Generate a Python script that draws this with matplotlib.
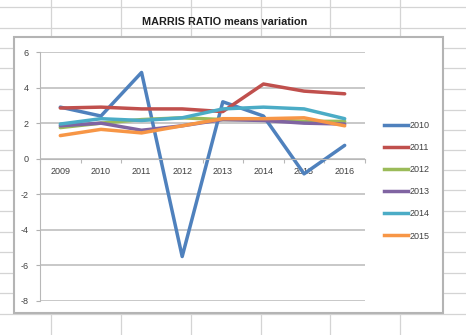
import matplotlib
matplotlib.use('Agg')
from matplotlib import pyplot as plt
from matplotlib.patches import Rectangle
from matplotlib.lines import Line2D
import numpy as np

plt.rcParams['font.family'] = ['Liberation Sans', 'DejaVu Sans']
plt.rcParams['axes.unicode_minus'] = False

years = ['2009', '2010', '2011', '2012', '2013', '2014', '2015', '2016']
series_names = ['2010', '2011', '2012', '2013', '2014', '2015']
s2010 = [2.9, 2.4, 4.85, -5.5, 3.2, 2.4, -0.85, 0.75]
s2011 = [2.85, 2.9, 2.8, 2.8, 2.65, 4.2, 3.8, 3.65]
s2012 = [1.75, 2.0, 2.2, 2.3, 2.2, 2.2, 2.1, 2.1]
s2013 = [1.85, 2.0, 1.6, 1.85, 2.2, 2.15, 2.0, 1.95]
s2014 = [1.95, 2.25, 2.15, 2.3, 2.8, 2.9, 2.8, 2.25]
s2015 = [1.3, 1.65, 1.45, 1.85, 2.25, 2.25, 2.3, 1.85]
colors = ['#4F81BD', '#C0504D', '#9BBB59', '#8064A2', '#4BACC6', '#F79646']

W, H = 466, 335
fig = plt.figure(figsize=(W / 100, H / 100), dpi=100)

# spreadsheet grid behind the chart
bg = fig.add_axes([0, 0, 1, 1])
bg.set_xlim(0, W)
bg.set_ylim(H, 0)
bg.axis('off')
for xv in [51, 121, 191, 261, 330, 400]:
    bg.axvline(xv, color='#d4d4d4', lw=0.9)
for yv in [7, 28, 48, 68, 89, 110, 130, 150, 170, 190, 211, 232, 252, 273, 293, 314]:
    bg.axhline(yv, color='#d4d4d4', lw=0.9)
bg.add_patch(Rectangle((14, 37), 429, 276, facecolor='white',
                       edgecolor='#b4b4b4', lw=1.5, zorder=3))
bg.text(225, 22, 'MARRIS RATIO means variation', ha='center', va='center',
        fontsize=7.8, fontweight='bold', color='#202020', zorder=4)

# chart plot area
ax = fig.add_axes([40 / W, (H - 301) / H, 325 / W, 249 / H])
ax.set_facecolor('none')
x = np.arange(len(years))
data = [s2010, s2011, s2012, s2013, s2014, s2015]
for name, vals, c in zip(series_names, data, colors):
    ax.plot(x, vals, color=c, lw=2.5, label=name, solid_capstyle='round',
            solid_joinstyle='round')

ax.set_xlim(-0.5, len(years) - 0.5)
ax.set_ylim(-8, 6)
ax.set_yticks(range(-8, 7, 2))
ax.yaxis.grid(True, color='#c4c4c4', lw=1.3)
ax.set_axisbelow(True)
ax.tick_params(axis='y', length=3, color='#b0b0b0', labelsize=6.5,
               labelcolor='#404040', pad=5)

ax.spines['top'].set_visible(False)
ax.spines['right'].set_visible(False)
ax.spines['left'].set_color('#b8b8b8')
ax.spines['bottom'].set_position(('data', 0))
ax.spines['bottom'].set_color('#b8b8b8')
ax.set_xticks(np.arange(len(years) + 1) - 0.5)
ax.set_xticklabels([])
ax.set_xticks(x, minor=True)
ax.set_xticklabels(years, minor=True)
ax.tick_params(axis='x', which='major', length=3, color='#b8b8b8')
ax.tick_params(axis='x', which='minor', length=0, labelsize=6.5,
               labelcolor='#404040', pad=6)

handles = [Line2D([], [], color=c, lw=2.5) for c in colors]
fig.legend(handles, series_names, loc='upper left',
           bbox_to_anchor=(376 / W, (H - 113) / H), frameon=False,
           fontsize=6.5, handlelength=2.6, handletextpad=0.2,
           labelspacing=1.45, labelcolor='#404040')

fig.savefig('out.png', dpi=100)
